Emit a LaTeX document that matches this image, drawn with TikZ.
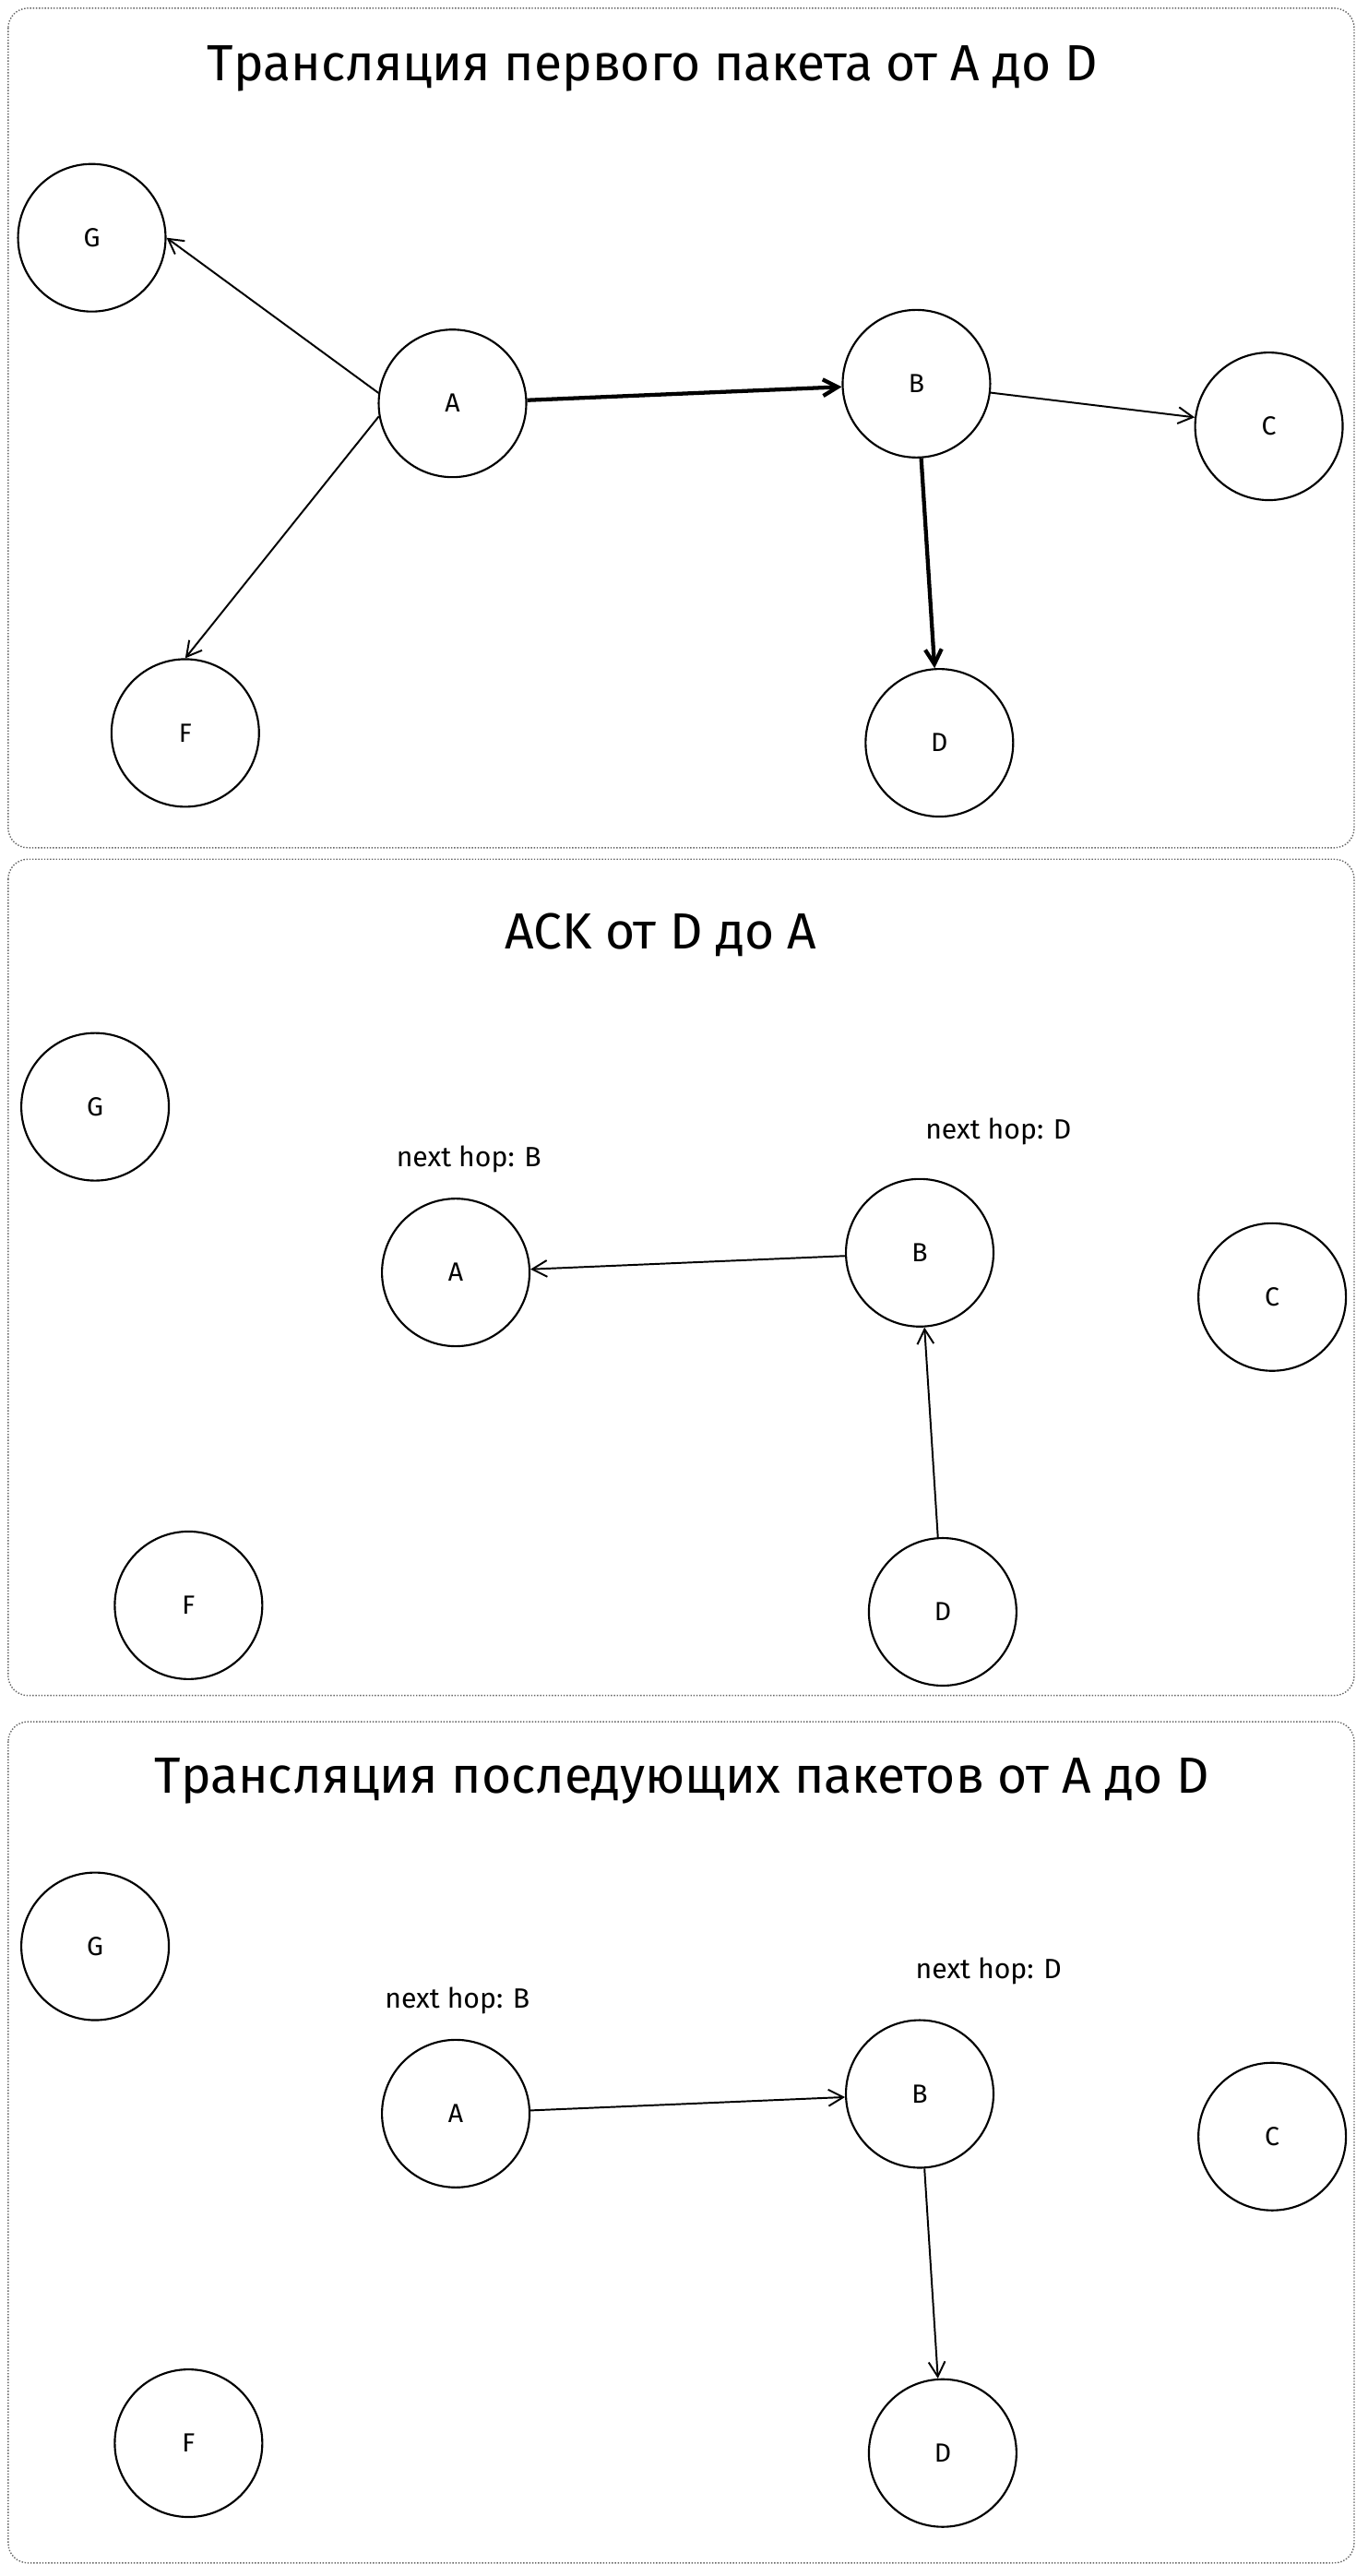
\documentclass[tikz,border=0pt]{standalone}
\usepackage{fontspec}
\setmainfont{Fira Sans}
\usetikzlibrary{arrows.meta}
\begin{document}
\begin{tikzpicture}[x=1pt,y=-1pt,
  nd/.style={circle,draw,line width=1.2pt,minimum size=90pt,inner sep=0pt,font=\fontsize{16}{18}\selectfont},
  panel/.style={draw=black!60,densely dotted,rounded corners=12pt,line width=0.8pt},
  ttl/.style={font=\fontsize{31}{34}\selectfont},
  lbl/.style={font=\fontsize{17}{20}\selectfont},
  ar/.style={-{Straight Barb[length=9pt,width=10pt]},line width=1.1pt},
  tk/.style={-{Straight Barb[length=9pt,width=10pt]},line width=2.4pt}]
\useasboundingbox (0,0) rectangle (834,1571);
\draw[panel] (5,5) rectangle (826,517);
\draw[panel] (5,524) rectangle (826,1034);
\draw[panel] (5,1050) rectangle (826,1563);
% panel 1
\node[ttl] (t1) at (398,42) {Трансляция первого пакета от A до D};
\node[nd] (G1) at (56,145) {G};
\node[nd] (A1) at (276,246) {A};
\node[nd] (B1) at (559,234) {B};
\node[nd] (C1) at (774,260) {C};
\node[nd] (F1) at (113,447) {F};
\node[nd] (D1) at (573,453) {D};
\draw[ar] (A1.172) -- (G1.east);
\draw[ar] (A1.190) -- (F1.north);
\draw[tk] (A1) -- (B1);
\draw[ar] (B1) -- (C1);
\draw[tk] (B1) -- (D1);
% panel 2
\node[ttl] (t2) at (403,570) {ACK от D до A};
\node[nd] (G2) at (58,675) {G};
\node[nd] (A2) at (278,776) {A};
\node[nd] (B2) at (561,764) {B};
\node[nd] (C2) at (776,791) {C};
\node[nd] (F2) at (115,979) {F};
\node[nd] (D2) at (575,983) {D};
\node[lbl] (la2) at (286,707) {next hop: B};
\node[lbl] (lb2) at (609,690) {next hop: D};
\draw[ar] (B2) -- (A2);
\draw[ar] (D2) -- (B2);
% panel 3
\node[ttl] (t3) at (416,1086) {Трансляция последующих пакетов от A до D};
\node[nd] (G3) at (58,1187) {G};
\node[nd] (A3) at (278,1289) {A};
\node[nd] (B3) at (561,1277) {B};
\node[nd] (C3) at (776,1303) {C};
\node[nd] (F3) at (115,1490) {F};
\node[nd] (D3) at (575,1496) {D};
\node[lbl] (la3) at (279,1220) {next hop: B};
\node[lbl] (lb3) at (603,1202) {next hop: D};
\draw[ar] (A3) -- (B3);
\draw[ar] (B3) -- (D3);
\end{tikzpicture}
\end{document}
